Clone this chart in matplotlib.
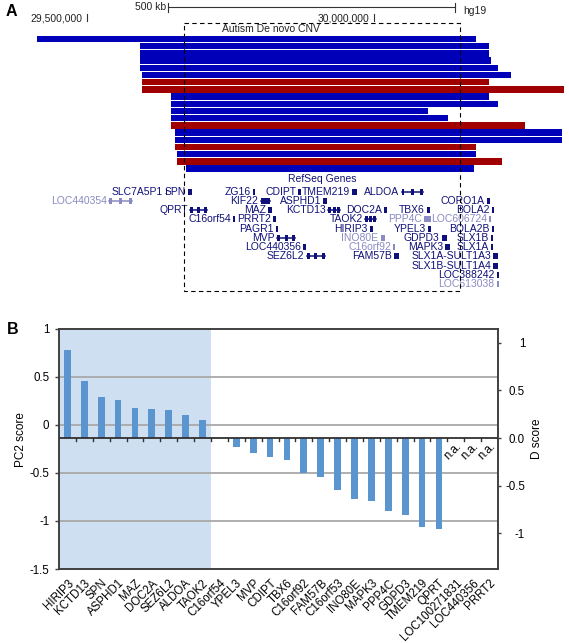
import matplotlib.pyplot as plt
from matplotlib.patches import Rectangle
import numpy as np

plt.rcParams['font.family'] = ['Liberation Sans', 'DejaVu Sans']

# ---------------- data: panel A (positions in Mb, hg19 chr16) ----------------
cnv_start = [29.4135, 29.5931, 29.5931, 29.5931, 29.5931, 29.5956, 29.5956, 29.5956,
             29.6468, 29.6468, 29.6468, 29.6468, 29.6468, 29.6531, 29.6531, 29.6531,
             29.6562, 29.6562, 29.6721]
cnv_end = [30.1781, 30.2008, 30.2008, 30.2053, 30.2160, 30.2400, 30.2008, 30.3324,
           30.2008, 30.2160, 30.0953, 30.1300, 30.2641, 30.3286, 30.3286, 30.1781,
           30.1781, 30.2243, 30.1750]
cnv_kind = ['del', 'del', 'del', 'del', 'del', 'del', 'dup', 'dup', 'del', 'del',
            'del', 'del', 'dup', 'del', 'del', 'dup', 'del', 'dup', 'del']

autism_cnv = (29.6697, 30.1504)

gene_names = ['SLC7A5P1', 'SPN', 'ZG16', 'CDIPT', 'TMEM219', 'ALDOA',
              'LOC440354', 'KIF22', 'ASPHD1', 'CORO1A',
              'QPRT', 'MAZ', 'KCTD13', 'DOC2A', 'TBX6', 'BOLA2',
              'C16orf54', 'PRRT2', 'TAOK2', 'PPP4C', 'LOC606724',
              'PAGR1', 'HIRIP3', 'YPEL3', 'BOLA2B',
              'MVP', 'INO80E', 'GDPD3', 'SLX1B',
              'LOC440356', 'C16orf92', 'MAPK3', 'SLX1A',
              'SEZ6L2', 'FAM57B', 'SLX1A-SULT1A3',
              'SLX1B-SULT1A4', 'LOC388242', 'LOC613038']
gene_start = [29.6369, 29.6766, 29.7900, 29.8684, 29.9621, 30.0487,
              29.5389, 29.8029, 29.9120, 30.1970,
              29.6796, 29.8161, 29.9207, 30.0179, 30.0923, 30.2057,
              29.7551, 29.8248, 29.9847, 30.0876, 30.2015,
              29.8290, 29.9935, 30.0951, 30.2057,
              29.8318, 30.0121, 30.1185, 30.2040,
              29.8772, 30.0341, 30.1242, 30.2040,
              29.8831, 30.0353, 30.2085,
              30.2085, 30.2144, 30.2144]
gene_end = [29.6395, 29.6826, 29.7929, 29.8731, 29.9709, 30.0854,
            29.5779, 29.8191, 29.9180, 30.2027,
            29.7087, 29.8221, 29.9411, 30.0226, 30.0981, 30.2066,
            29.7586, 29.8296, 30.0039, 30.0993, 30.2022,
            29.8336, 29.9982, 30.0998, 30.2074,
            29.8627, 30.0196, 30.1283, 30.2085,
            29.8819, 30.0365, 30.1330, 30.2085,
            29.9150, 30.0446, 30.2172,
            30.2172, 30.2179, 30.2179]
gene_row = [0, 0, 0, 0, 0, 0,
            1, 1, 1, 1,
            2, 2, 2, 2, 2, 2,
            3, 3, 3, 3, 3,
            4, 4, 4, 4,
            5, 5, 5, 5,
            6, 6, 6, 6,
            7, 7, 7,
            8, 9, 10]
gene_light = ['LOC440354', 'INO80E', 'C16orf92', 'PPP4C', 'LOC606724', 'LOC613038']

# ---------------- data: panel B ----------------
genes_b = ['HIRIP3', 'KCTD13', 'SPN', 'ASPHD1', 'MAZ', 'DOC2A', 'SEZ6L2', 'ALDOA',
           'TAOK2', 'C16orf54', 'YPEL3', 'MVP', 'CDIPT', 'TBX6', 'C16orf92', 'FAM57B',
           'C16orf53', 'INO80E', 'MAPK3', 'PPP4C', 'GDPD3', 'TMEM219', 'QPRT',
           'LOC100271831', 'LOC440356', 'PRRT2']
d_score = [0.918, 0.601, 0.426, 0.401, 0.317, 0.306, 0.296, 0.244,
           0.184, 0.0, -0.099, -0.161, -0.196, -0.235, -0.369, -0.406,
           -0.542, -0.639, -0.657, -0.769, -0.811, -0.937, -0.954,
           np.nan, np.nan, np.nan]
n_highlight = 9

W, H = 569, 643
fig = plt.figure(figsize=(W / 100, H / 100), dpi=100)

# ---------------- panel A ----------------
PX_PER_MB = 573.5
mb_left = 29.5 - 87 / PX_PER_MB
mb_right = 29.5 + (W - 87) / PX_PER_MB
axA = fig.add_axes([0, 1 - 300 / H, 1, 300 / H])
axA.set_xlim(mb_left, mb_right)
axA.set_ylim(300, 0)
axA.axis('off')

FS_A = 7.5
blue = '#0000b8'
red = '#a00000'
for i, (s, e, k) in enumerate(zip(cnv_start, cnv_end, cnv_kind)):
    axA.barh(39 + i * 7.2, e - s, left=s, height=6.5,
             color=red if k == 'dup' else blue, linewidth=0)

dark = '#10107a'
light = '#8a8ac4'
min_w = 1.8 / PX_PER_MB
for name, s, e, r in zip(gene_names, gene_start, gene_end, gene_row):
    y = 191.7 + r * 9.25
    c = light if name in gene_light else dark
    if (e - s) * PX_PER_MB < 7:
        axA.barh(y, max(e - s, min_w), left=s, height=6, color=c, linewidth=0)
    else:
        axA.plot([s, e], [y, y], color=c, lw=1.1)
        bw = 2.8 / PX_PER_MB
        axA.barh(y, bw, left=s, height=6, color=c, linewidth=0)
        axA.barh(y, bw, left=e - bw, height=6, color=c, linewidth=0)
        axA.barh(y, bw, left=(s + e) / 2 - bw / 2, height=6, color=c, linewidth=0)
    axA.annotate(name, (s, y), xytext=(-1.6, 0), textcoords='offset points',
                 ha='right', va='center', fontsize=FS_A, color=c)

axA.text((autism_cnv[0] + autism_cnv[1]) / 2 + 0.0, 179.3, 'RefSeq Genes',
         ha='center', va='center', fontsize=FS_A, color=dark)

axA.add_patch(Rectangle((autism_cnv[0], 23.3), autism_cnv[1] - autism_cnv[0], 267.4,
                        fill=False, ec='black', lw=0.8, ls=(0, (4, 3)), zorder=5))
axA.text(autism_cnv[0] + 38 / PX_PER_MB, 29.3, 'Autism De novo CNV',
         ha='left', va='center', fontsize=FS_A, color='#222222')

# coordinate ticks and scale bar
for pos, label in [(29.5, '29,500,000'), (30.0, '30,000,000')]:
    axA.plot([pos, pos], [13.5, 21], color='#333333', lw=0.8)
    axA.annotate(label, (pos, 18.5), xytext=(-3, 0), textcoords='offset points',
                 ha='right', va='center', fontsize=FS_A, color='#222222')
sb0 = 29.6412
axA.plot([sb0, sb0 + 0.5], [7.3, 7.3], color='#333333', lw=0.8)
axA.plot([sb0, sb0], [3, 11.5], color='#333333', lw=0.8)
axA.plot([sb0 + 0.5, sb0 + 0.5], [3, 11.5], color='#333333', lw=0.8)
axA.annotate('500 kb', (sb0, 7.3), xytext=(-1.5, 0), textcoords='offset points',
             ha='right', va='center', fontsize=FS_A, color='#222222')
axA.annotate('hg19', (sb0 + 0.5, 11), xytext=(6, 0), textcoords='offset points',
             ha='left', va='center', fontsize=FS_A, color='#222222')

fig.text(11 / W, 1 - 11 / H, 'A', fontsize=11.5, fontweight='bold', ha='center', va='center')
fig.text(12.5 / W, 1 - 329 / H, 'B', fontsize=11.5, fontweight='bold', ha='center', va='center')

# ---------------- panel B ----------------
ax = fig.add_axes([59 / W, (H - 569) / H, 439 / W, 240.5 / H])
x = np.arange(len(genes_b))
ax.set_xlim(-0.5, len(genes_b) - 0.5)
ax.set_ylim(-1.5, 1)
ax.axvspan(-0.5, n_highlight - 0.5, color='#cfdff2', lw=0, zorder=0)
for g in [0.5, 0, -0.5, -1]:
    ax.axhline(g, color='#a8a8a8', lw=1.3, zorder=1)
ax.set_yticks([-1.5, -1, -0.5, 0, 0.5, 1])
ax.set_yticklabels(['-1.5', '-1', '-0.5', '0', '0.5', '1'])
ax.tick_params(axis='y', length=3, width=1, pad=4, labelsize=8.3, color='#404040')
ax.set_xticks(x)
ax.set_xticklabels(genes_b, rotation=45, ha='right', rotation_mode='anchor', fontsize=8.3)
ax.tick_params(axis='x', length=0, pad=6)
for sp in ax.spines.values():
    sp.set_color('#404040')
    sp.set_linewidth(1.4)
ax.set_ylabel('PC2 score', fontsize=8.5)
ax.yaxis.set_label_coords(-0.073, 0.54)

ax2 = ax.twinx()
ax2.set_ylim(-1.373, 1.148)
ax2.bar(x, d_score, width=0.4, color='#5b95cf', zorder=3)
ax2.axhline(0, color='#303030', lw=1.3, zorder=4)
for b in np.arange(0.5, len(genes_b) - 1, 1.0):
    ax2.plot([b, b], [0, -0.035], color='#303030', lw=1, zorder=4)
for i, v in enumerate(d_score):
    if np.isnan(v):
        ax2.text(i + 0.0, -0.02, 'n.a.', rotation=45, rotation_mode='anchor',
                 ha='right', va='top', fontsize=8.3)
ax2.set_yticks([-1, -0.5, 0, 0.5, 1])
ax2.set_yticklabels(['-1', '-0.5', '0.0', '0.5', '1'], ha='right')
ax2.tick_params(axis='y', length=2.5, width=1, pad=17, labelsize=8.3, color='#404040')
for sp in ax2.spines.values():
    sp.set_visible(False)
ax2.set_ylabel('D score', fontsize=8.5)
ax2.yaxis.set_label_coords(1.075, 0.543)

fig.savefig('out.png', dpi=100)
